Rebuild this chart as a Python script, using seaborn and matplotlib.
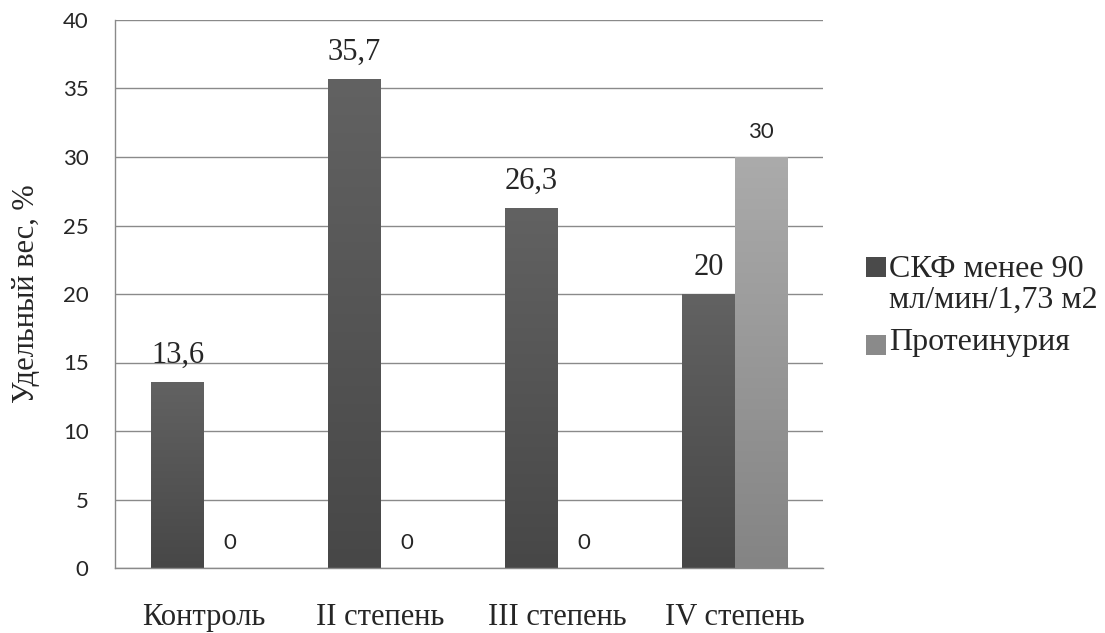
import numpy as np
import pandas as pd
import matplotlib
matplotlib.use("Agg")
import matplotlib.pyplot as plt
import seaborn as sns
from matplotlib.patches import Rectangle

categories = ["Контроль", "II степень", "III степень", "IV степень"]
series_names = ["СКФ менее 90\nмл/мин/1,73 м2", "Протеинурия"]
skf_values = [13.6, 35.7, 26.3, 20.0]
prot_values = [0.0, 0.0, 0.0, 30.0]
skf_labels = ["13,6", "35,7", "26,3", "20"]
prot_labels = ["0", "0", "0", "30"]
yticks = [0, 5, 10, 15, 20, 25, 30, 35, 40]

df = pd.DataFrame({
    "cat": categories * 2,
    "series": [series_names[0]] * 4 + [series_names[1]] * 4,
    "value": skf_values + prot_values,
})

sns.set_theme(style="white")
SERIF = ["Liberation Serif", "DejaVu Serif"]
SANS = ["Lato", "DejaVu Sans"]
plt.rcParams["font.family"] = SERIF

SERIF_SIZE = 22
SANS_SIZE = 16

fig = plt.figure(figsize=(11.05, 6.33), dpi=100)
ax = fig.add_axes([115 / 1105, 65 / 633, 708 / 1105, 548 / 633])

sns.barplot(data=df, x="cat", y="value", hue="series", order=categories,
            hue_order=series_names, palette=["#555555", "#999999"],
            width=0.588, gap=0, ax=ax, legend=False, errorbar=None,
            edgecolor="none", linewidth=0)

ax.set_ylim(0, 40)
ax.set_yticks(yticks)
ax.yaxis.grid(True, color="#8a8a8a", linewidth=1.0)
ax.set_axisbelow(True)
for s in ["top", "right"]:
    ax.spines[s].set_visible(False)
for s in ["left", "bottom"]:
    ax.spines[s].set_color("#8a8a8a")
    ax.spines[s].set_linewidth(1.0)
ax.tick_params(axis="both", length=0)
ax.tick_params(axis="y", pad=19, labelsize=SANS_SIZE)
ax.tick_params(axis="x", pad=25, labelsize=SERIF_SIZE)
for t in ax.get_yticklabels():
    t.set_family(SANS)
for t in ax.get_xticklabels():
    t.set_family(SERIF)
ax.set_xlabel("")
ax.set_ylabel("Удельный вес, %", fontsize=SERIF_SIZE, family=SERIF)
ax.yaxis.set_label_coords(-0.104, 0.5)

# gradient fills
grads = [("#474747", "#626262"), ("#848484", "#ababab")]
bars = list(ax.patches)
n = len(categories)
for i, p in enumerate(bars[:2 * n]):
    si = i // n
    x0, y0 = p.get_x(), p.get_y()
    w, h = p.get_width(), p.get_height()
    if h <= 0:
        continue
    c0 = np.array(matplotlib.colors.to_rgb(grads[si][0]))
    c1 = np.array(matplotlib.colors.to_rgb(grads[si][1]))
    t = np.linspace(0, 1, 256)[:, None]
    img = (c0[None, :] * (1 - t) + c1[None, :] * t)[:, None, :]
    im = ax.imshow(img, extent=[x0, x0 + w, y0, y0 + h], origin="lower",
                   aspect="auto", zorder=p.get_zorder() + 0.1, interpolation="bilinear")
    im.set_clip_path(p)
ax.set_xlim(-0.5, n - 0.5)
ax.set_ylim(0, 40)

# value labels
for i in range(n):
    p1 = bars[i]
    p2 = bars[n + i]
    ax.annotate(skf_labels[i], (p1.get_x() + p1.get_width() / 2, p1.get_height()),
                xytext=(0, 13.5), textcoords="offset points", ha="center", va="baseline",
                fontsize=SERIF_SIZE, family=SERIF)
    ax.annotate(prot_labels[i], (p2.get_x() + p2.get_width() / 2, p2.get_height()),
                xytext=(0, 13.5), textcoords="offset points", ha="center", va="baseline",
                fontsize=SANS_SIZE, family=SANS)

# legend (manual)
W, H = 1105, 633
leg_cols = [("#4a4a4a", "#666666"), ("#8a8a8a", "#b0b0b0")]
sq_centers = [266.5, 345]
baselines = [[277, 308], [350]]
for cols, yc, lines, lab in zip(leg_cols, sq_centers, baselines, series_names):
    sq = 20
    fig.add_artist(Rectangle((866 / W, (H - yc - sq / 2) / H), sq / W, sq / H,
                             transform=fig.transFigure, facecolor=cols[0], edgecolor="none"))
    for txt, yb in zip(lab.split("\n"), lines):
        fig.text(889 / W, (H - yb) / H, txt, fontsize=23, family=SERIF,
                 va="baseline", ha="left")

fig.savefig("out.png", dpi=100)
